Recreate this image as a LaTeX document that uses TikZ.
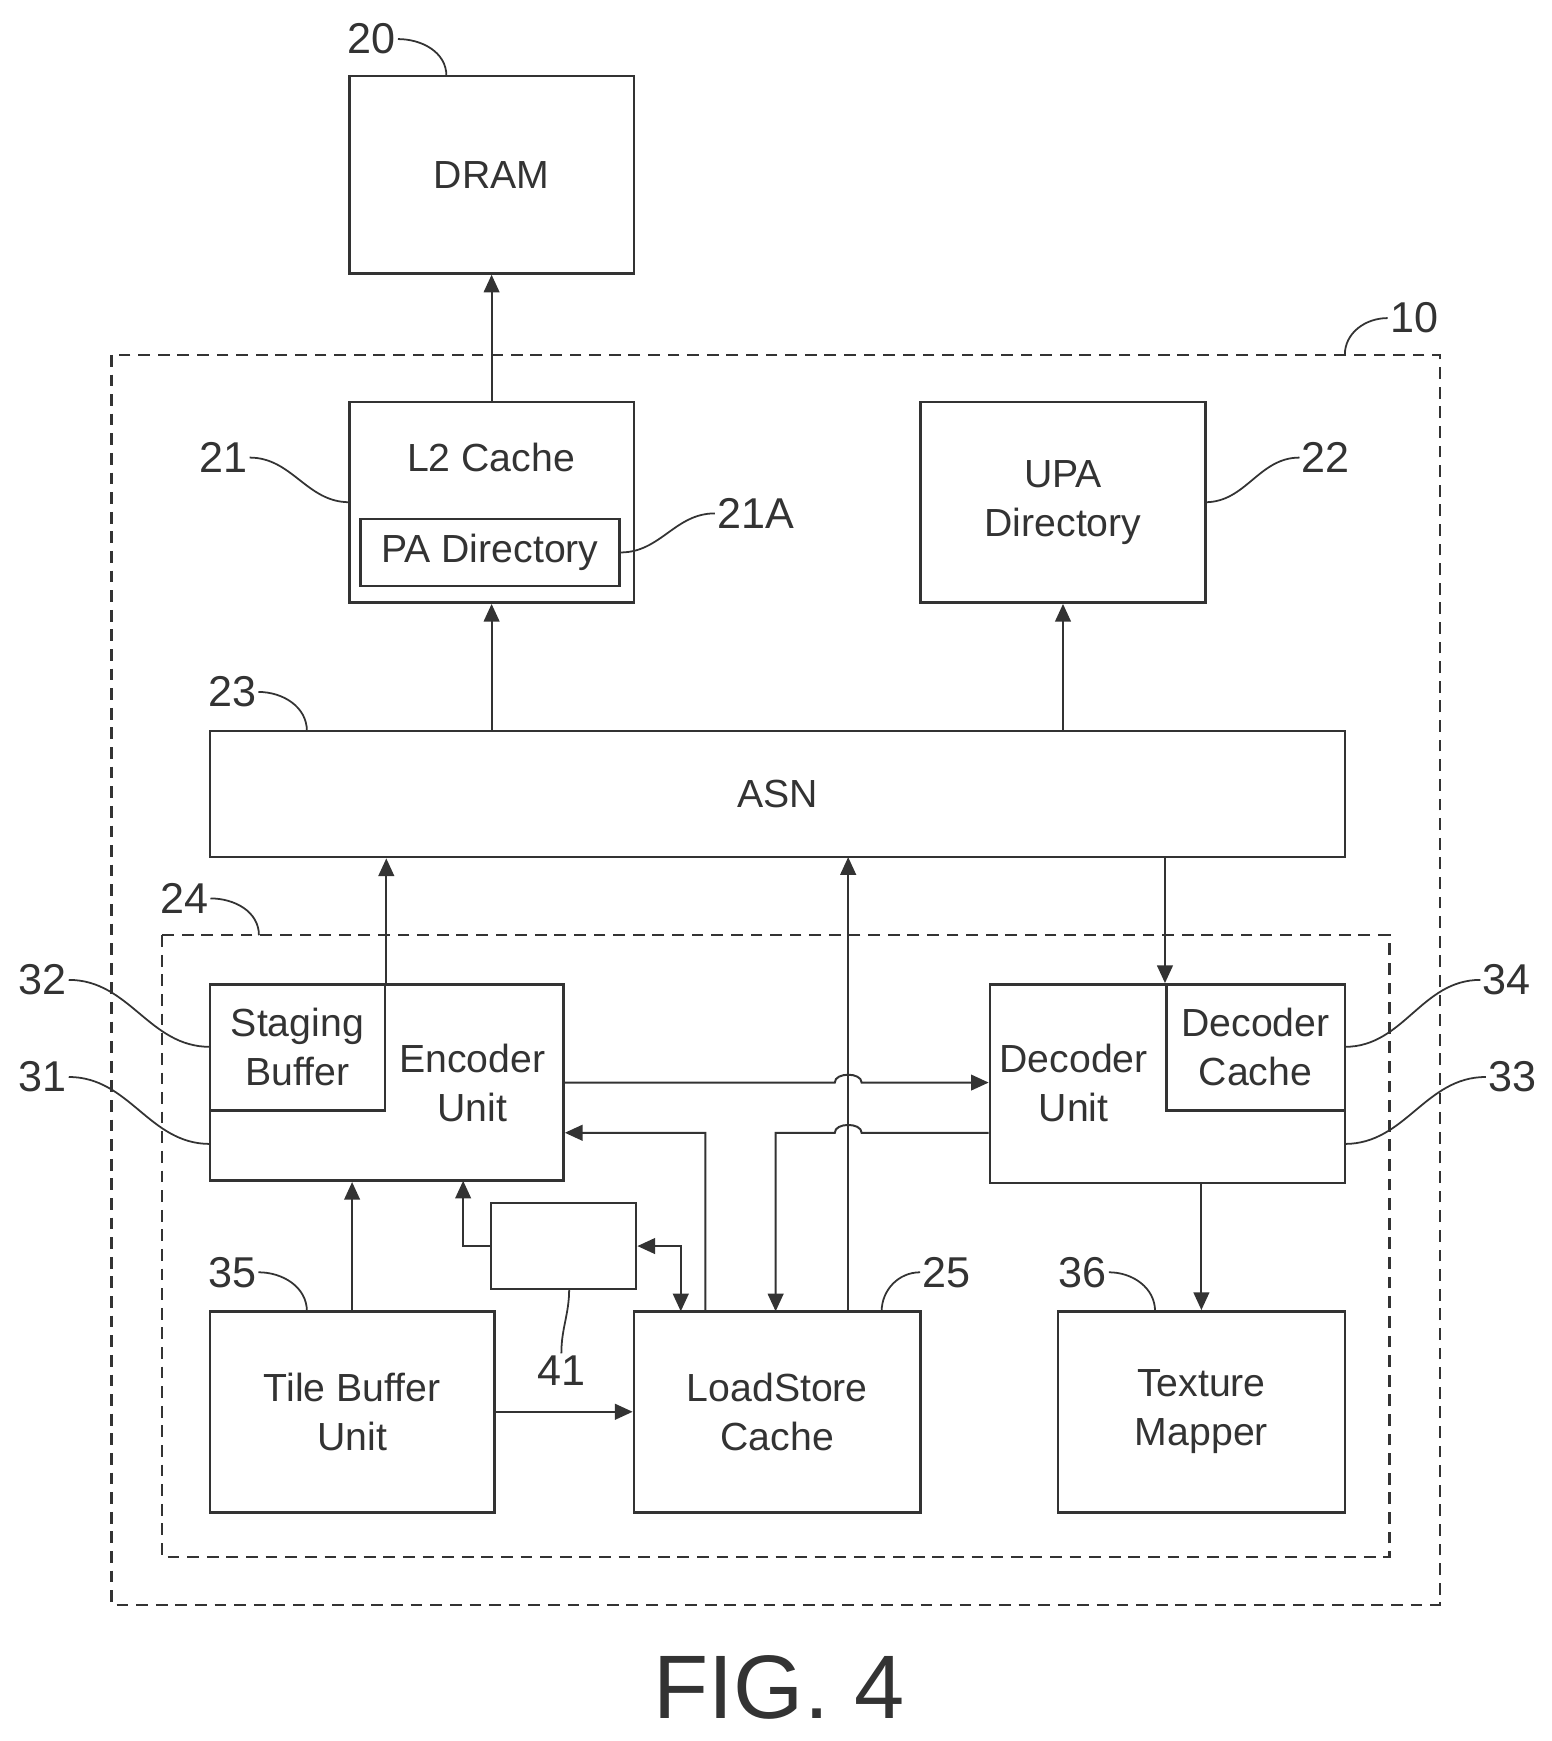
\documentclass[tikz,border=0pt]{standalone}
\usepackage{fontspec}
\setmainfont{Liberation Sans}
\usetikzlibrary{arrows.meta}
\tikzset{
  blk/.style 2 args = {draw, line width=1.3pt, minimum width=#1*0.02 cm, minimum height=#2*0.02 cm,
    inner sep=0pt, align=center, font=\fontsize{20}{25}\selectfont},
  txt/.style = {inner sep=0pt, align=center, font=\fontsize{20}{25}\selectfont},
  num/.style = {inner sep=1pt, font=\fontsize{22}{26}\selectfont},
  lead/.style = {line width=0.9pt},
  arr/.style = {line width=1pt, -{Triangle[length=9pt,width=8pt]}},
  darr/.style = {line width=1pt, {Triangle[length=9pt,width=8pt]}-{Triangle[length=9pt,width=8pt]}},
  frame/.style = {line width=1.2pt, dash pattern=on 6pt off 4pt}
}
\begin{document}
\begin{tikzpicture}[x=0.02cm,y=-0.02cm,color=black!80]
  \useasboundingbox (0,0) rectangle (1390,1560);
  % frames
  \draw[frame] (100,318) rectangle (1290,1438);
  \draw[frame] (145,838) rectangle (1245,1395);
  % blocks
  \node[blk={255}{177}] (dram) at (440.5,156.5) {DRAM};
  \node[blk={255}{180}] (l2) at (440.5,450) {};
  \node[txt] (l2text) at (440,410) {L2 Cache};
  \node[blk={232}{60}] (pa) at (439,495) {PA Directory};
  \node[blk={255}{180}] (upa) at (952.5,450) {UPA\\Directory};
  \node[blk={1017}{113}] (asn) at (696.5,711.5) {ASN};
  \node[blk={317}{176}] (enc) at (346.5,970) {};
  \node[txt] (enctext) at (423,970) {Encoder\\Unit};
  \node[blk={157}{113}] (stg) at (266.5,938.5) {Staging\\Buffer};
  \node[blk={318}{178}] (dec) at (1046,971) {};
  \node[txt] (dectext) at (962,970) {Decoder\\Unit};
  \node[blk={160}{113}] (dcache) at (1125,938.5) {Decoder\\Cache};
  \node[blk={130}{77}] (box41) at (505,1116.5) {};
  \node[blk={255}{180}] (tile) at (315.5,1265) {Tile Buffer\\Unit};
  \node[blk={257}{180}] (ls) at (696.5,1265) {LoadStore\\Cache};
  \node[blk={257}{180}] (tex) at (1076.5,1265) {Texture\\Mapper};
  % reference numerals
  \node[num] (n20) at (333,35) {20};
  \node[num] (n10) at (1267,285) {10};
  \node[num] (n21) at (200,410) {21};
  \node[num] (n21a) at (677,460) {21A};
  \node[num] (n22) at (1188,410) {22};
  \node[num] (n23) at (208,620) {23};
  \node[num] (n24) at (165,805) {24};
  \node[num] (n32) at (38,878) {32};
  \node[num] (n31) at (38,965) {31};
  \node[num] (n34) at (1350,878) {34};
  \node[num] (n33) at (1355,965) {33};
  \node[num] (n35) at (208,1140) {35};
  \node[num] (n25) at (848,1140) {25};
  \node[num] (n36) at (970,1140) {36};
  \node[num] (n41) at (503,1228) {41};
  % leaders
  \draw[lead] (n20.east) to[out=0,in=90] (400,68);
  \draw[lead] (n10.west) to[out=180,in=90] (1205,318);
  \draw[lead] (n21.east) to[out=0,in=180] (313,450);
  \draw[lead] (n21a.west) to[out=180,in=0] (pa.east);
  \draw[lead] (n22.west) to[out=180,in=0] (1080,450);
  \draw[lead] (n23.east) to[out=0,in=90] (275,655);
  \draw[lead] (n24.east) to[out=0,in=90] (232,838);
  \draw[lead] (n32.east) to[out=0,in=180] (188,938);
  \draw[lead] (n31.east) to[out=0,in=180] (188,1025);
  \draw[lead] (n34.west) to[out=180,in=0] (1205,938);
  \draw[lead] (n33.west) to[out=180,in=0] (1205,1025);
  \draw[lead] (n35.east) to[out=0,in=90] (275,1175);
  \draw[lead] (n25.west) to[out=180,in=90] (790,1175);
  \draw[lead] (n36.east) to[out=0,in=90] (1035,1175);
  \draw[lead] (n41.north) to[out=90,in=-90] (510,1155);
  % connections
  \draw[arr] (l2.north) -- (dram.south);
  \draw[arr] (asn.north -| l2.south) -- (l2.south);
  \draw[arr] (asn.north -| upa.south) -- (upa.south);
  \draw[arr] (stg.north east) -- (asn.south -| stg.east);
  \draw[arr] (asn.south -| dcache.west) -- (dcache.north west);
  \draw[arr] (760,1175) -- (760,768);
  \draw[arr] (enc.east) -- (748,970) to[out=90,in=90] (772,970) -- (dec.west |- enc.east);
  \draw[arr] ([yshift=-0.88cm]dec.west) -- (772,1015) to[out=90,in=90] (748,1015) -- (695,1015) -- (695,1175);
  \draw[arr] (632,1175) -- (632,1015) -- ([yshift=-0.9cm]enc.east);
  \draw[arr] (box41.west) -- (415,1116.5) -- (415,1058);
  \draw[darr] (box41.east) -- (610,1116.5) -- (610,1175);
  \draw[arr] (tile.north) -- (enc.south -| tile.north);
  \draw[arr] (tile.east) -- (ls.west);
  \draw[arr] (tex.north |- dec.south) -- (tex.north);
  % caption
  \node[inner sep=0pt, font=\fontsize{46}{52}\selectfont] (fig) at (698,1512) {FIG. 4};
\end{tikzpicture}
\end{document}
